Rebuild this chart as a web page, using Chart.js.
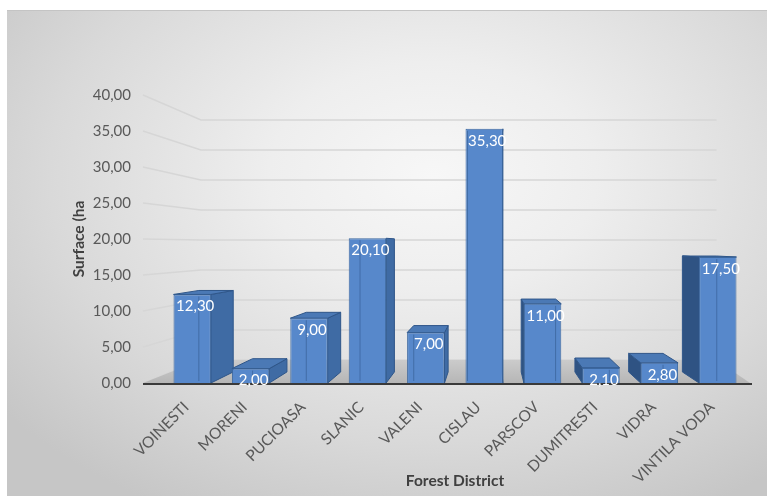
<!DOCTYPE html>
<html lang="en">
<head>
    <meta charset="UTF-8">
    <title>Surface by Forest District</title>
    <script src="https://cdn.jsdelivr.net/npm/chart.js"></script>
    <style>
        body {
            margin: 0;
            padding: 0;
            background-color: #fff;
            font-family: Lato, sans-serif;
        }

        .sfondo {
            position: absolute;
            left: 7px;
            top: 10px;
            width: 760px;
            height: 486px;
            border-top: 1px solid #c4c4c4;
            background: radial-gradient(ellipse 72% 78% at 56% 34%, #f7f7f7 0%, #eeeeee 30%, #d9d9d9 70%, #c6c6c6 100%);
        }

        .container {
            position: absolute;
            left: 0;
            top: 0;
            width: 767px;
            height: 496px;
        }
    </style>
</head>
<body>
    <div class="sfondo"></div>
    <div class="container">
        <canvas id="grafico"></canvas>
    </div>

    <script>
        // dati del grafico
        const districts = ['VOINESTI', 'MORENI', 'PUCIOASA', 'SLANIC', 'VALENI', 'CISLAU', 'PARSCOV', 'DUMITRESTI', 'VIDRA', 'VINTILA VODA'];
        const surface = [12.30, 2.00, 9.00, 20.10, 7.00, 35.30, 11.00, 2.10, 2.80, 17.50];
        const yMin = 0;
        const yMax = 40;
        const yStep = 5;

        // formato con la virgola: 12,30
        function virgola(v) {
            return Number(v).toFixed(2).replace('.', ',');
        }

        // punto di fuga della prospettiva, relativo all'area del grafico
        function fuga(area) {
            return {
                vx: area.left + (area.right - area.left) * 0.56,
                vy: area.top + (area.bottom - area.top) * 0.52
            };
        }

        // finto 3D: pavimento, griglia sulla parete di fondo e facce laterali delle barre
        const prospettiva = {
            id: 'prospettiva',
            beforeDatasetsDraw(chart) {
                const ctx = chart.ctx;
                const area = chart.chartArea;
                const y = chart.scales.y;
                const { vx, vy } = fuga(area);
                const sF = 0.833; // profondita del pavimento
                const sB = 0.92;  // profondita delle barre
                const fl = area.left - 20;
                const fr = area.right + 3;
                const fondo = (px, py, s) => [vx + (px - vx) * s, vy + (py - vy) * s];

                ctx.save();

                // linee della griglia
                ctx.strokeStyle = '#d6d6d6';
                ctx.lineWidth = 1.4;
                y.ticks.forEach(t => {
                    const fy = y.getPixelForValue(t.value);
                    const bl = fondo(fl, fy, sF);
                    const br = fondo(fr + 12, fy, sF);
                    ctx.beginPath();
                    ctx.moveTo(fl, fy);
                    ctx.lineTo(bl[0], bl[1]);
                    ctx.lineTo(br[0], br[1]);
                    ctx.stroke();
                });

                // pavimento
                const base = y.getPixelForValue(0);
                const pbl = fondo(fl, base, sF);
                const pbr = fondo(fr + 12, base, sF);
                const grad = ctx.createLinearGradient(0, pbl[1], 0, base);
                grad.addColorStop(0, '#cbcbcb');
                grad.addColorStop(1, '#b6b6b6');
                ctx.fillStyle = grad;
                ctx.beginPath();
                ctx.moveTo(fl, base);
                ctx.lineTo(pbl[0], pbl[1]);
                ctx.lineTo(pbr[0], pbr[1]);
                ctx.lineTo(fr, base);
                ctx.closePath();
                ctx.fill();

                // facce laterali e superiori delle barre
                const meta = chart.getDatasetMeta(0);
                meta.data.forEach(bar => {
                    const p = bar.getProps(['x', 'y', 'base', 'width'], true);
                    const l = p.x - p.width / 2;
                    const r = p.x + p.width / 2;
                    const t = p.y;
                    const b = p.base;
                    const lt = fondo(l, t, sB), rt = fondo(r, t, sB);
                    const lb = fondo(l, b, sB), rb = fondo(r, b, sB);

                    ctx.strokeStyle = '#2f5689';
                    ctx.lineWidth = 1;
                    if (p.x < vx) {
                        ctx.fillStyle = '#3f6ba4';
                        ctx.beginPath();
                        ctx.moveTo(r, t); ctx.lineTo(rt[0], rt[1]); ctx.lineTo(rb[0], rb[1]); ctx.lineTo(r, b);
                        ctx.closePath(); ctx.fill(); ctx.stroke();
                    } else {
                        ctx.fillStyle = '#2f5383';
                        ctx.beginPath();
                        ctx.moveTo(l, t); ctx.lineTo(lt[0], lt[1]); ctx.lineTo(lb[0], lb[1]); ctx.lineTo(l, b);
                        ctx.closePath(); ctx.fill(); ctx.stroke();
                    }
                    if (t > vy) {
                        ctx.fillStyle = '#4b79b5';
                        ctx.beginPath();
                        ctx.moveTo(l, t); ctx.lineTo(lt[0], lt[1]); ctx.lineTo(rt[0], rt[1]); ctx.lineTo(r, t);
                        ctx.closePath(); ctx.fill(); ctx.stroke();
                    }
                });

                ctx.restore();
            },
            afterDatasetsDraw(chart) {
                const ctx = chart.ctx;
                const area = chart.chartArea;
                const y = chart.scales.y;
                const base = y.getPixelForValue(0);
                const meta = chart.getDatasetMeta(0);
                const { vx } = fuga(area);

                ctx.save();
                // spigoli interni (barre semitrasparenti)
                ctx.strokeStyle = 'rgba(40, 75, 125, 0.45)';
                ctx.lineWidth = 1;
                meta.data.forEach(bar => {
                    const p = bar.getProps(['x', 'y', 'base', 'width'], true);
                    const edge = p.x < vx ? p.x - p.width / 2 : p.x + p.width / 2;
                    const ex = vx + (edge - vx) * 0.92;
                    ctx.beginPath();
                    ctx.moveTo(ex, p.y + 2);
                    ctx.lineTo(ex, p.base - 2);
                    ctx.stroke();
                });

                // linea dell'asse
                ctx.strokeStyle = '#3a3a3a';
                ctx.lineWidth = 2;
                ctx.beginPath();
                ctx.moveTo(area.left - 20, base + 1);
                ctx.lineTo(area.right + 5, base + 1);
                ctx.stroke();

                // etichette dei valori
                ctx.fillStyle = '#ffffff';
                ctx.font = '15px Lato';
                ctx.textAlign = 'center';
                ctx.textBaseline = 'middle';
                meta.data.forEach((bar, i) => {
                    const p = bar.getProps(['x', 'y'], true);
                    ctx.fillText(virgola(surface[i]), p.x + 3, p.y + 12);
                });
                ctx.restore();
            }
        };

        const ctx = document.getElementById('grafico').getContext('2d');
        const chart = new Chart(ctx, {
            type: 'bar',
            data: {
                labels: districts,
                datasets: [{
                    label: 'Surface (ha)',
                    data: surface,
                    backgroundColor: '#5788cb',
                    borderColor: '#3b679f',
                    borderWidth: 1,
                    barPercentage: 0.64,
                    categoryPercentage: 1
                }]
            },
            options: {
                responsive: true,
                maintainAspectRatio: false,
                animation: false,
                layout: {
                    padding: { left: 66, right: 20, top: 95, bottom: 4 }
                },
                plugins: {
                    legend: { display: false },
                    tooltip: { enabled: false }
                },
                scales: {
                    x: {
                        grid: { display: false, drawTicks: false },
                        border: { display: false },
                        ticks: {
                            color: '#595959',
                            font: { family: 'Lato', size: 15.5 },
                            minRotation: 45,
                            maxRotation: 45,
                            padding: 15,
                            labelOffset: -6
                        },
                        title: {
                            display: true,
                            text: 'Forest District',
                            color: '#404040',
                            font: { family: 'Lato', size: 15.5, weight: 'bold' },
                            padding: { top: 0, bottom: 2 }
                        },
                        afterFit(scale) {
                            scale.height = 109;
                            scale.paddingLeft = 0;
                            scale.paddingRight = 0;
                        }
                    },
                    y: {
                        min: yMin,
                        max: yMax,
                        grid: { display: false, drawTicks: false },
                        border: { display: false },
                        ticks: {
                            stepSize: yStep,
                            color: '#595959',
                            font: { family: 'Lato', size: 15 },
                            padding: 32,
                            callback: v => virgola(v)
                        },
                        title: {
                            display: true,
                            text: 'Surface (ha',
                            color: '#404040',
                            font: { family: 'Lato', size: 15.5, weight: 'bold' },
                            padding: { top: 4, bottom: 2 }
                        },
                        afterFit(scale) {
                            scale.width = 97;
                        }
                    }
                }
            },
            plugins: [prospettiva]
        });
    </script>
</body>
</html>
